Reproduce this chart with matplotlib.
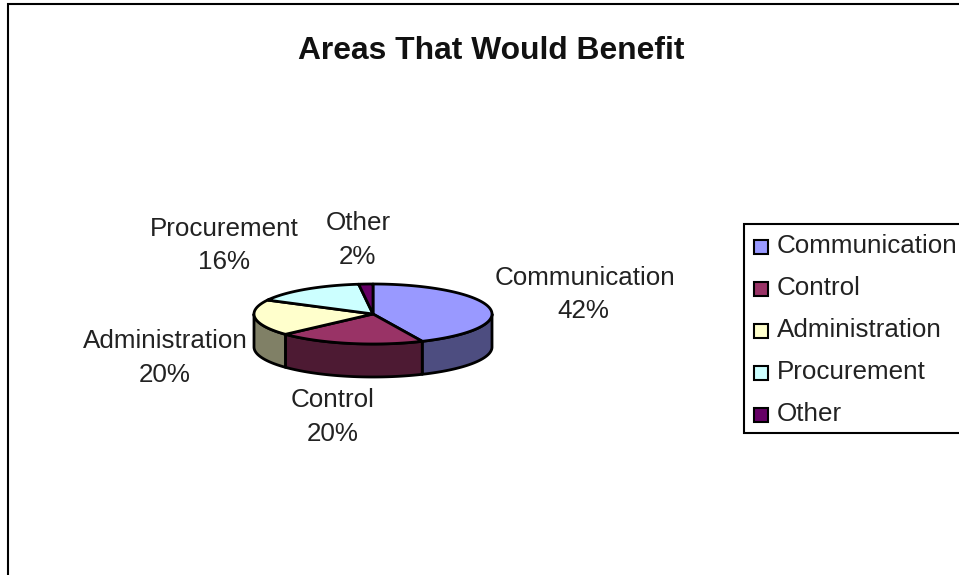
#!/usr/bin/env python3
from __future__ import annotations

import matplotlib
matplotlib.use("Agg")
import matplotlib.pyplot as plt
import numpy as np
from matplotlib.patches import Polygon, Rectangle

plt.rcParams["font.family"] = ["Liberation Sans", "DejaVu Sans"]

categories = ["Communication", "Control", "Administration", "Procurement", "Other"]
shares = [42, 20, 20, 16, 2]
top_colors = ["#9999FF", "#993366", "#FFFFCC", "#CCFFFF", "#660066"]
side_colors = ["#4D4D80", "#4D1A33", "#808066", "#668080", "#330033"]

title = "Areas That Would Benefit"

# pie geometry, in pixels
CX, CY = 373, 314
RX, RY = 119, 30
DEPTH = 33

# label centres (name line, value line)
label_pos = [(585, 278, 583, 311), (333, 400, 333, 434), (165, 341, 165, 375),
             (224, 229, 224, 262), (358, 223, 357, 257)]


def warp(a):
    # slight perspective skew of the slice angles on the tilted disc
    return a + 4.5 * np.sin(np.radians(a) / 2)


def rim(a0: float, a1: float) -> tuple[np.ndarray, np.ndarray]:
    # angles are in degrees, clockwise from twelve o'clock
    t = np.radians(np.linspace(a0, a1, 120))
    return CX + RX * np.sin(t), CY - RY * np.cos(t)


def main() -> None:
    fig = plt.figure(figsize=(9.59, 5.75), dpi=100)
    ax = fig.add_axes([0, 0, 1, 1])
    ax.set_xlim(0, 959)
    ax.set_ylim(575, 0)
    ax.axis("off")

    # chart frame runs off the right and bottom edges
    ax.add_patch(Rectangle((8, 4), 990, 640, fc="white", ec="black", lw=1.5))
    ax.text(491.5, 51, title, ha="center", va="center", fontsize=22.9, fontweight="bold",
            color="#111111")

    edges = warp(np.cumsum([0] + shares) / sum(shares) * 360)
    edges[-1] = 360

    # side wall: only the part of each slice facing the viewer
    for i in range(len(shares)):
        a0, a1 = max(edges[i], 90), min(edges[i + 1], 270)
        if a1 <= a0:
            continue
        x, y = rim(a0, a1)
        pts = np.r_[np.c_[x, y], np.c_[x[::-1], y[::-1] + DEPTH]]
        ax.add_patch(Polygon(pts, fc=side_colors[i], ec="black", lw=2, joinstyle="round"))

    for i in range(len(shares)):
        x, y = rim(edges[i], edges[i + 1])
        pts = np.r_[[[CX, CY]], np.c_[x, y]]
        ax.add_patch(Polygon(pts, fc=top_colors[i], ec="black", lw=2, joinstyle="round"))

    for name, share, (nx, ny, vx, vy) in zip(categories, shares, label_pos):
        ax.text(nx, ny, name, ha="center", va="center", fontsize=18.7, color="#222222")
        ax.text(vx, vy, f"{share}%", ha="center", va="center", fontsize=18.7, color="#222222")

    # legend box, also cut by the right edge
    ax.add_patch(Rectangle((744, 224), 300, 209, fc="white", ec="black", lw=1.5))
    for i, name in enumerate(categories):
        yc = 245 + 42 * i
        ax.add_patch(Rectangle((754, yc - 5), 14, 14, fc=top_colors[i], ec="black", lw=1.5))
        ax.text(777, yc + 1, name, ha="left", va="center", fontsize=18.7, color="#222222")

    fig.savefig("out.png", dpi=100)


if __name__ == "__main__":
    main()
